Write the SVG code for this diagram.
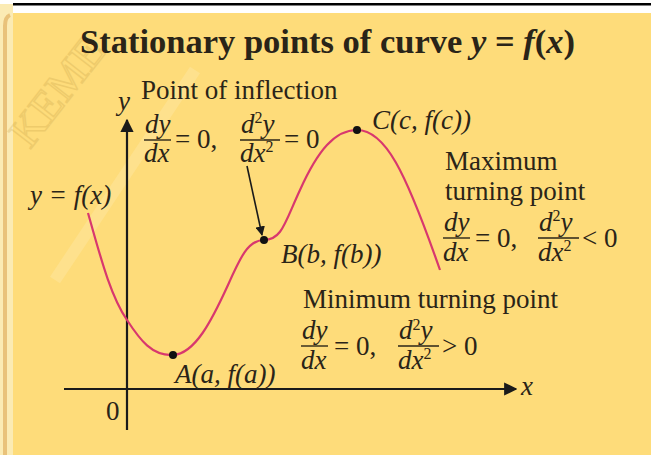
<svg xmlns="http://www.w3.org/2000/svg" width="651" height="455" viewBox="0 0 651 455">
<style>
.t{font-family:"Liberation Serif","Times New Roman",serif;font-size:27px;fill:#2a2418}
.i{font-style:italic}
.title{font-family:"Liberation Serif","Times New Roman",serif;font-size:34.5px;font-weight:bold;fill:#2a2418}
.ax{stroke:#1a1a1a;stroke-width:2.2;fill:none}
.fr{stroke:#2a2418;stroke-width:1.4}
.dot{fill:#111}
.sup{font-size:16px;font-style:normal}
</style>
<defs>
<marker id="ah" viewBox="0 0 10 10" refX="9" refY="5" markerWidth="6" markerHeight="6" orient="auto-start-reverse"><path d="M0,0 L10,5 L0,10 Z" fill="#1a1a1a"/></marker>
</defs>
<rect width="651" height="455" fill="#ffffff"/>
<rect x="13" y="13" width="638" height="442" fill="#FEDC7A"/>
<rect x="13" y="3" width="638" height="2.5" fill="#000"/>
<rect x="0" y="4" width="13" height="451" fill="#FBEBB4"/>
<path d="M5,455 L5,26 Q5,17 10,15" stroke="#E9C27A" stroke-width="4" fill="none"/>
<g id="watermark" opacity="0.22">
<path d="M55,280 L195,70" stroke="#FFF6D0" stroke-width="12"/>
<text x="30" y="150" transform="rotate(-52 30 150)" style="font-family:'Liberation Serif',serif;font-size:44px;fill:none;stroke:#B8923A;stroke-width:1.5">KEME</text>
</g>
<text class="title" x="80" y="53">Stationary points of curve <tspan font-style="italic">y</tspan> = <tspan font-style="italic">f</tspan>(<tspan font-style="italic">x</tspan>)</text>
<g id="axes">
<line class="ax" x1="127" y1="430" x2="127" y2="120" marker-end="url(#ah)"/>
<line class="ax" x1="64" y1="389" x2="516" y2="389" marker-end="url(#ah)"/>
<text class="t i" x="118" y="110">y</text>
<text class="t i" x="521" y="395">x</text>
<text class="t" x="106" y="420">0</text>
</g>
<g id="curve">
<path d="M88,213 C100,255 110,295 127,320 C140,340 152,356 173,355 C195,354 212,320 228,285 C240,258 248,240 264,240 C282,240 285,222 300,190 C318,150 335,130 357,130 C385,130 405,170 440,270" fill="none" stroke="#D8386E" stroke-width="2.2"/>
<text class="t i" x="30" y="204">y = f(x)</text>
</g>
<g id="connectors">
<line x1="247" y1="166" x2="262" y2="235" stroke="#1a1a1a" stroke-width="1.6" marker-end="url(#ah)"/>
</g>
<g id="inflection">
<circle class="dot" cx="264" cy="240" r="4"/>
<text class="t" x="141" y="99">Point of inflection</text>
<text class="t i" x="145" y="133">dy</text>
<line class="fr" x1="144" y1="140" x2="171" y2="140"/>
<text class="t i" x="144" y="162">dx</text>
<text class="t" x="175" y="148">= 0,</text>
<text class="t i" x="241" y="133">d<tspan class="sup" dy="-10">2</tspan><tspan dy="10">y</tspan></text>
<line class="fr" x1="240" y1="140" x2="280" y2="140"/>
<text class="t i" x="240" y="162">dx<tspan class="sup" dy="-10">2</tspan></text>
<text class="t" x="284" y="148">= 0</text>
<text class="t i" x="281" y="263">B(b, f(b))</text>
</g>
<g id="maximum">
<circle class="dot" cx="357" cy="130" r="4"/>
<text class="t i" x="372" y="129">C(c, f(c))</text>
<text class="t" x="445" y="170">Maximum</text>
<text class="t" x="445" y="200">turning point</text>
<text class="t i" x="444" y="231">dy</text>
<line class="fr" x1="443" y1="238" x2="470" y2="238"/>
<text class="t i" x="443" y="261">dx</text>
<text class="t" x="475" y="247">= 0,</text>
<text class="t i" x="539" y="231">d<tspan class="sup" dy="-10">2</tspan><tspan dy="10">y</tspan></text>
<line class="fr" x1="538" y1="238" x2="579" y2="238"/>
<text class="t i" x="538" y="261">dx<tspan class="sup" dy="-10">2</tspan></text>
<text class="t" x="582" y="247">&lt; 0</text>
</g>
<g id="minimum">
<circle class="dot" cx="173" cy="355" r="4"/>
<text class="t i" x="175" y="383">A(a, f(a))</text>
<text class="t" x="303" y="308">Minimum turning point</text>
<text class="t i" x="302" y="339">dy</text>
<line class="fr" x1="301" y1="346" x2="328" y2="346"/>
<text class="t i" x="301" y="369">dx</text>
<text class="t" x="334" y="355">= 0,</text>
<text class="t i" x="399" y="339">d<tspan class="sup" dy="-9">2</tspan><tspan dy="9">y</tspan></text>
<line class="fr" x1="398" y1="346" x2="439" y2="346"/>
<text class="t i" x="398" y="369">dx<tspan class="sup" dy="-10">2</tspan></text>
<text class="t" x="442" y="355">&gt; 0</text>
</g>
</svg>
